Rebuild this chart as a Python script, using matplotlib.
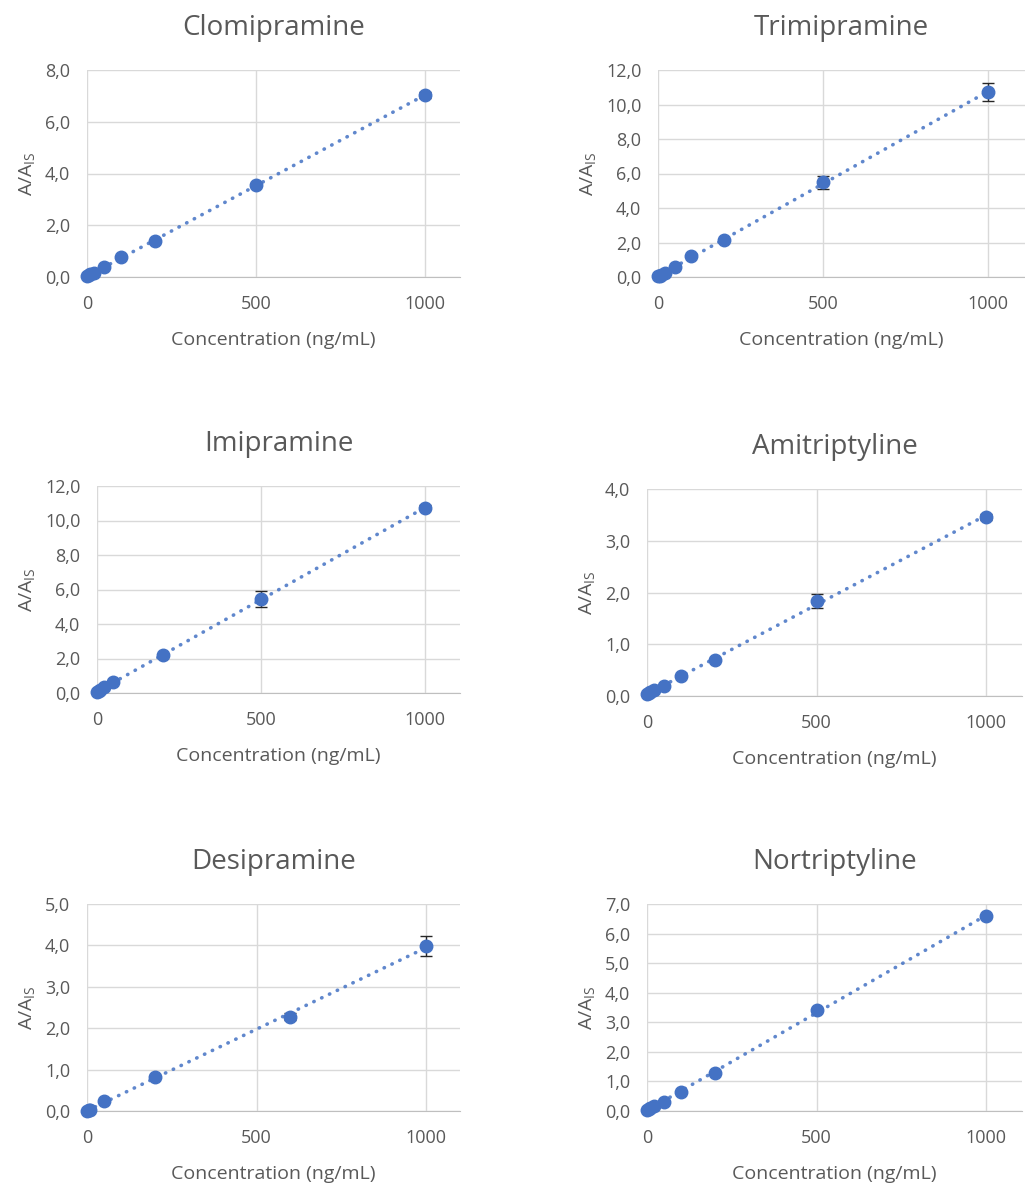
import matplotlib.pyplot as plt
import numpy as np
from matplotlib.ticker import FuncFormatter

plt.rcParams['font.family'] = ['Open Sans', 'DejaVu Sans']
plt.rcParams['mathtext.default'] = 'regular'

blue = '#4472C4'
grey_text = '#595959'
grid_col = '#D9D9D9'

# calibration data per compound: concentration (ng/mL), mean A/A_IS, std
clomi_x = [1, 5, 10, 20, 50, 100, 200, 500, 1000]
clomi_y = [0.03, 0.06, 0.10, 0.16, 0.37, 0.76, 1.38, 3.55, 7.03]
clomi_e = [0.01, 0.01, 0.01, 0.01, 0.02, 0.03, 0.05, 0.08, 0.12]

trimi_x = [1, 5, 10, 20, 50, 100, 200, 500, 1000]
trimi_y = [0.04, 0.08, 0.14, 0.25, 0.58, 1.20, 2.14, 5.48, 10.72]
trimi_e = [0.01, 0.01, 0.01, 0.02, 0.04, 0.06, 0.08, 0.40, 0.53]

imi_x = [1, 5, 10, 20, 50, 200, 500, 1000]
imi_y = [0.04, 0.10, 0.18, 0.33, 0.64, 2.19, 5.44, 10.74]
imi_e = [0.01, 0.01, 0.02, 0.02, 0.04, 0.08, 0.45, 0.15]

ami_x = [1, 5, 10, 20, 50, 100, 200, 500, 1000]
ami_y = [0.03, 0.05, 0.08, 0.11, 0.19, 0.38, 0.70, 1.84, 3.46]
ami_e = [0.01, 0.01, 0.01, 0.01, 0.01, 0.02, 0.03, 0.13, 0.05]

desi_x = [1, 5, 10, 50, 200, 600, 1000]
desi_y = [0.01, 0.02, 0.03, 0.23, 0.83, 2.28, 3.99]
desi_e = [0.01, 0.01, 0.01, 0.02, 0.04, 0.08, 0.24]

nortri_x = [1, 5, 10, 20, 50, 100, 200, 500, 1000]
nortri_y = [0.03, 0.06, 0.10, 0.17, 0.32, 0.65, 1.28, 3.42, 6.58]
nortri_e = [0.01, 0.01, 0.01, 0.01, 0.02, 0.03, 0.04, 0.08, 0.06]

names = ['Clomipramine', 'Trimipramine', 'Imipramine',
         'Amitriptyline', 'Desipramine', 'Nortriptyline']
xs = [clomi_x, trimi_x, imi_x, ami_x, desi_x, nortri_x]
ys = [clomi_y, trimi_y, imi_y, ami_y, desi_y, nortri_y]
es = [clomi_e, trimi_e, imi_e, ami_e, desi_e, nortri_e]
ymax = [8, 12, 12, 4, 5, 7]
ystep = [2, 2, 2, 1, 1, 1]

W, H = 1025, 1187
# plot area boxes in pixels: left, top, right, bottom
boxes = [(87, 70, 460, 277), (658, 70, 1025, 277),
         (97, 486, 460, 693), (647, 489, 1022, 696),
         (87, 904, 460, 1111), (647, 904, 1022, 1111)]
px_per_1000 = [338, 330, 328, 339, 339, 339]

fig = plt.figure(figsize=(W / 100, H / 100), dpi=100)

for i in range(6):
    l, t, r, b = boxes[i]
    ax = fig.add_axes([l / W, 1 - b / H, (r - l) / W, (b - t) / H])
    x = np.array(xs[i])
    y = np.array(ys[i])

    # linear trendline, dotted
    k, c = np.polyfit(x, y, 1)
    xl = np.array([x.min(), x.max()])
    ax.plot(xl, k * xl + c, linestyle=(0, (0.1, 2.3)), color=blue, lw=2.6,
            dash_capstyle='round', alpha=0.85, zorder=2)
    ax.errorbar(x, y, yerr=es[i], fmt='o', color=blue, ms=9,
                ecolor='#262626', elinewidth=1, capsize=4, capthick=1,
                zorder=3, clip_on=False)

    ax.set_xlim(0, 1000 * (r - l) / px_per_1000[i])
    ax.set_ylim(0, ymax[i])
    ax.set_xticks([0, 500, 1000])
    ax.set_yticks(np.arange(0, ymax[i] + 0.01, ystep[i]))
    ax.yaxis.set_major_formatter(FuncFormatter(lambda v, p: f"{v:.1f}".replace('.', ',')))
    ax.grid(True, color=grid_col, lw=1)
    ax.set_axisbelow(True)
    for s in ['top', 'right', 'left']:
        ax.spines[s].set_visible(False)
    ax.spines['bottom'].set_color('#BFBFBF')
    ax.spines['bottom'].set_zorder(1)
    ax.tick_params(length=0, labelsize=13, labelcolor=grey_text)
    ax.tick_params(axis='y', pad=12)
    ax.tick_params(axis='x', pad=13)

    ax.set_title(names[i], fontsize=20, color=grey_text, pad=25)
    ax.set_xlabel('Concentration (ng/mL)', fontsize=14, color=grey_text, labelpad=13)
    ax.set_ylabel('A/A$_{IS}$', fontsize=14, color=grey_text, labelpad=6)

fig.savefig('out.png', dpi=100)
